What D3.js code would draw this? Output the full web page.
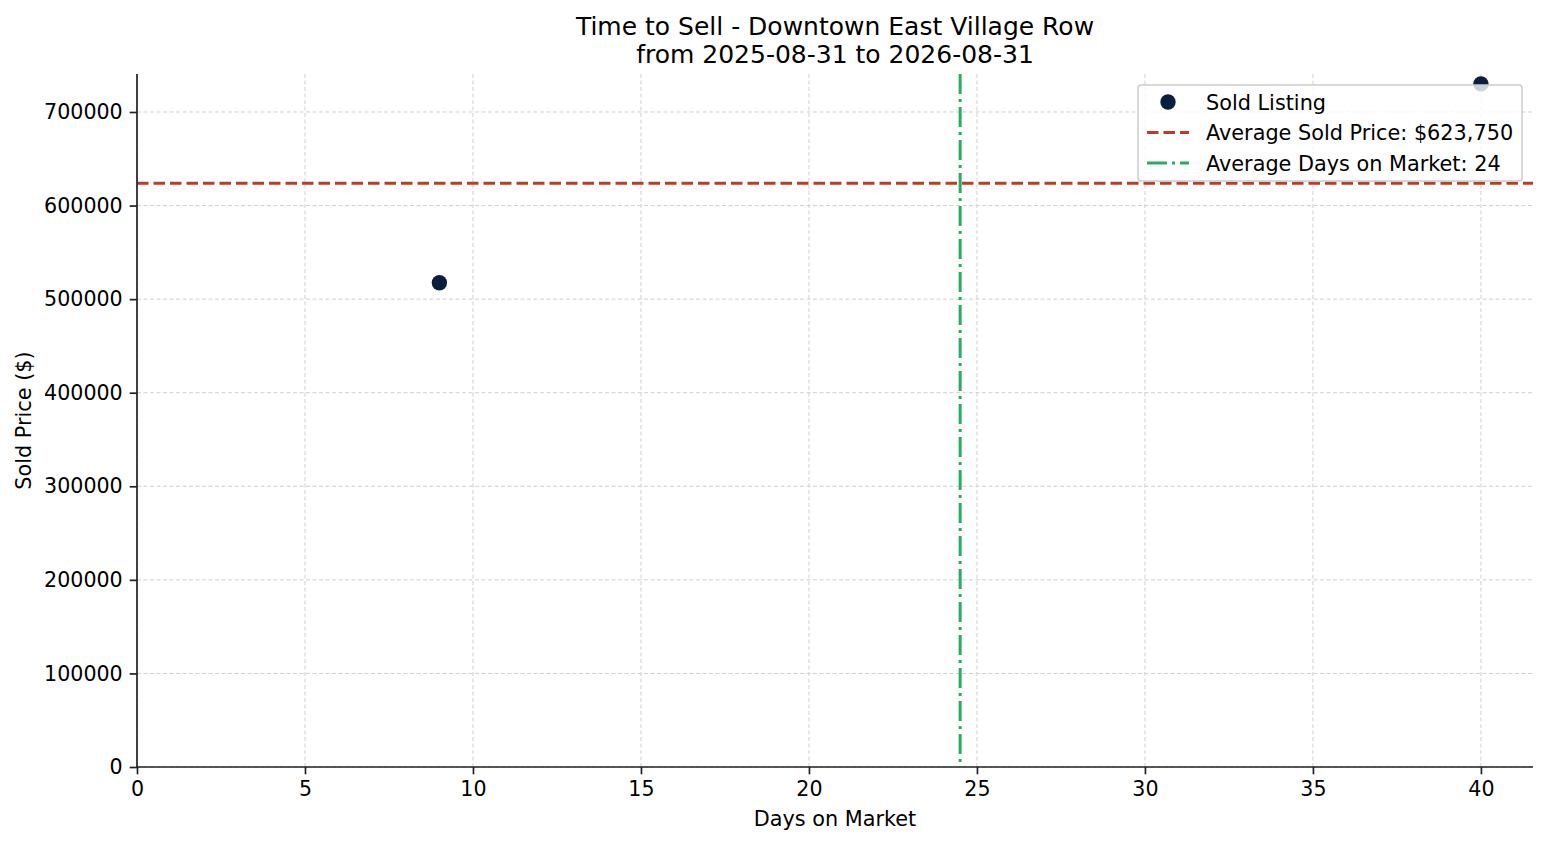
<!DOCTYPE html>
<html>
<head>
<meta charset="utf-8">
<script src="https://cdn.jsdelivr.net/npm/d3@7"></script>
<style>
  body { margin: 0; background: #fff; }
  text { font-family: "DejaVu Sans", sans-serif; fill: #000; }
</style>
</head>
<body>
<div id="chart"></div>
<script>
// sold listings
var daysOnMarket = [9, 40];
var soldPrices   = [517500, 730000];
var xTicks = [0, 5, 10, 15, 20, 25, 30, 35, 40];
var yTicks = [0, 100000, 200000, 300000, 400000, 500000, 600000, 700000];
var titleLines = ["Time to Sell - Downtown East Village Row", "from 2025-08-31 to 2026-08-31"];

var avgPrice = d3.mean(soldPrices);
var avgDays  = d3.mean(daysOnMarket);

var W = 1547, H = 845;
var margin = {top: 74, right: 14, bottom: 78, left: 137};
var width  = W - margin.left - margin.right;
var height = H - margin.top - margin.bottom;

var svg = d3.select("#chart").append("svg")
    .attr("width", W).attr("height", H);

var g = svg.append("g")
    .attr("transform", "translate(" + margin.left + "," + margin.top + ")");

var x = d3.scaleLinear().domain([0, 41.55]).range([0, width]);
var y = d3.scaleLinear().domain([0, 740600]).range([height, 0]);

var dashed  = "11.5,5";
var dashdot = "20,5,3,5";
var dotColor = "#081f3d";

// grid
g.append("g").selectAll("line").data(xTicks).join("line")
    .attr("x1", d => x(d)).attr("x2", d => x(d))
    .attr("y1", 0).attr("y2", height)
    .attr("stroke", "#d0d0d0").attr("stroke-width", 1)
    .attr("stroke-dasharray", "4,2.5");
g.append("g").selectAll("line").data(yTicks).join("line")
    .attr("x1", 0).attr("x2", width)
    .attr("y1", d => y(d)).attr("y2", d => y(d))
    .attr("stroke", "#d0d0d0").attr("stroke-width", 1)
    .attr("stroke-dasharray", "4,2.5");

// average lines
g.append("line")
    .attr("x1", 0).attr("x2", width)
    .attr("y1", y(avgPrice)).attr("y2", y(avgPrice))
    .attr("stroke", "#c0392b").attr("stroke-width", 3)
    .attr("stroke-dasharray", dashed);
g.append("line")
    .attr("x1", x(avgDays)).attr("x2", x(avgDays))
    .attr("y1", 0).attr("y2", height)
    .attr("stroke", "#27ae60").attr("stroke-width", 3)
    .attr("stroke-dasharray", dashdot);

// points
g.append("g").selectAll("circle").data(daysOnMarket).join("circle")
    .attr("cx", d => x(d))
    .attr("cy", (d, i) => y(soldPrices[i]))
    .attr("r", 7.7)
    .attr("fill", dotColor);

// axes
var xAxis = d3.axisBottom(x).tickValues(xTicks).tickSize(7.3).tickPadding(7);
var yAxis = d3.axisLeft(y).tickValues(yTicks).tickSize(7.3).tickPadding(7)
    .tickFormat(d3.format("d"));

var gx = g.append("g").attr("transform", "translate(0," + height + ")").call(xAxis);
var gy = g.append("g").call(yAxis);
[gx, gy].forEach(function (a) {
    a.select(".domain").attr("stroke", "#222").attr("stroke-width", 1.7);
    a.selectAll(".tick line").attr("stroke", "#222").attr("stroke-width", 1.7);
    a.selectAll(".tick text").style("font-size", "20.6px")
        .style("font-family", "DejaVu Sans, sans-serif").attr("fill", "#000");
});
gy.select(".domain").attr("d", "M0," + height + "V0");
gx.select(".domain").attr("d", "M0,0H" + width);

// labels
svg.append("text")
    .attr("x", margin.left + width / 2).attr("y", 826)
    .attr("text-anchor", "middle").style("font-size", "20.8px")
    .text("Days on Market");
svg.append("text")
    .attr("transform", "translate(30.5," + (margin.top + height / 2) + ") rotate(-90)")
    .attr("text-anchor", "middle").style("font-size", "20.8px")
    .text("Sold Price ($)");

svg.append("g").selectAll("text").data(titleLines).join("text")
    .attr("x", margin.left + width / 2)
    .attr("y", (d, i) => 34.5 + i * 28)
    .attr("text-anchor", "middle").style("font-size", "25px")
    .text(d => d);

// legend
var legendItems = [
    {type: "dot", label: "Sold Listing"},
    {type: "dash", label: "Average Sold Price: $" + d3.format(",")(avgPrice)},
    {type: "dashdot", label: "Average Days on Market: " + Math.floor(avgDays)}
];
var lg = svg.append("g").attr("transform", "translate(1138,85)");
lg.append("rect")
    .attr("width", 384).attr("height", 96).attr("rx", 3)
    .attr("fill", "#fff").attr("fill-opacity", 0.8)
    .attr("stroke", "#cccccc").attr("stroke-width", 1.5);
var item = lg.selectAll("g.item").data(legendItems).join("g")
    .attr("class", "item")
    .attr("transform", (d, i) => "translate(0," + (17 + i * 30.5) + ")");
item.filter(d => d.type === "dot").append("circle")
    .attr("cx", 30).attr("cy", 0).attr("r", 7.7).attr("fill", dotColor);
item.filter(d => d.type === "dash").append("line")
    .attr("x1", 9).attr("x2", 51).attr("stroke", "#c0392b").attr("stroke-width", 3)
    .attr("stroke-dasharray", dashed);
item.filter(d => d.type === "dashdot").append("line")
    .attr("x1", 9).attr("x2", 51).attr("stroke", "#27ae60").attr("stroke-width", 3)
    .attr("stroke-dasharray", dashdot);
item.append("text")
    .attr("x", 68).attr("dy", "0.36em").style("font-size", "20.8px")
    .text(d => d.label);
</script>
</body>
</html>
